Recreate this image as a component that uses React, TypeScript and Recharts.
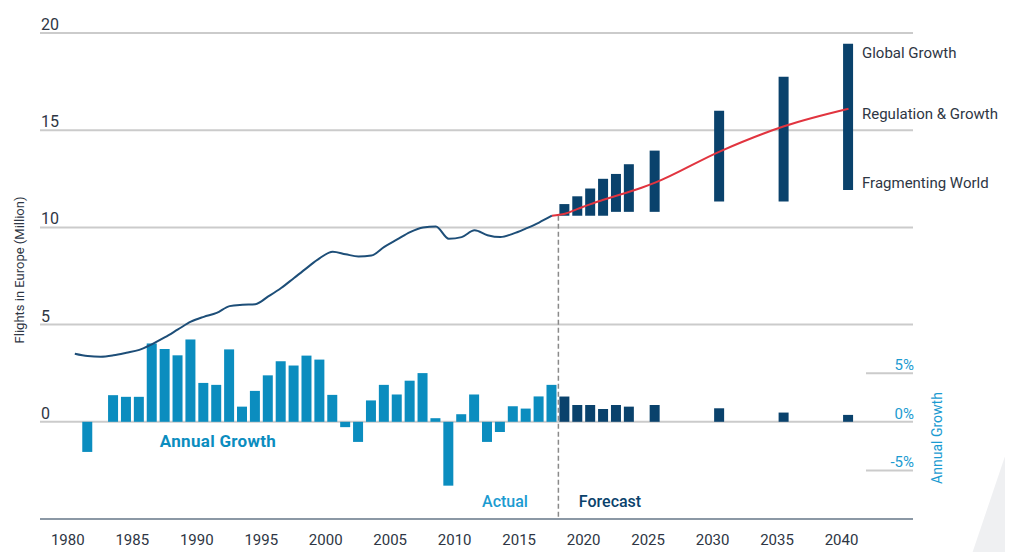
import { Bar, CartesianGrid, Cell, ComposedChart, Line, ReferenceLine, XAxis, YAxis } from "recharts";

// actual traffic, 1980-2017
const HIST_YEARS = [
  1980, 1981, 1982, 1983, 1984, 1985, 1986, 1987, 1988, 1989, 1990, 1991, 1992, 1993, 1994, 1995, 1996, 1997, 1998,
  1999, 2000, 2001, 2002, 2003, 2004, 2005, 2006, 2007, 2008, 2009, 2010, 2011, 2012, 2013, 2014, 2015, 2016, 2017,
];
const FLIGHTS = [
  3.5, 3.38, 3.35, 3.42, 3.55, 3.7, 4.0, 4.35, 4.75, 5.15, 5.4, 5.6, 5.95, 6.02, 6.05, 6.45, 6.88, 7.4, 7.92, 8.42,
  8.75, 8.62, 8.5, 8.55, 9.0, 9.38, 9.76, 10.0, 10.05, 9.42, 9.5, 9.85, 9.6, 9.5, 9.68, 9.95, 10.25, 10.6,
];
const GROWTH_HIST = [
  null, -3.1, 0, 2.74, 2.57, 2.57, 8.06, 7.49, 6.84, 8.47, 4.0, 3.8, 7.45, 1.56, 3.18, 4.78, 6.23, 5.79, 6.81, 6.4,
  2.77, -0.55, -2.07, 2.2, 3.8, 2.81, 4.23, 5.01, 0.37, -6.57, 0.78, 2.81, -2.07, -1.05, 1.59, 1.36, 2.61, 3.8,
];

// forecast scenarios
const FC_YEARS = [2018, 2019, 2020, 2021, 2022, 2023, 2024, 2025, 2030, 2035, 2040];
const GROWTH_FC = [2.6, 1.73, 1.73, 1.32, 1.73, 1.56, null, 1.73, 1.39, 0.95, 0.71];
const FRAGMENTING = [10.6, 10.6, 10.6, 10.6, 10.8, 10.8, null, 10.8, 11.33, 11.33, 11.93];
const GLOBAL_GROWTH = [11.2, 11.6, 12.0, 12.5, 12.75, 13.25, null, 13.95, 16.0, 17.75, 19.45];
const REGULATION = [10.7, 10.95, 11.2, 11.42, 11.63, 11.83, 12.05, 12.3, 13.9, 15.2, 16.1];

const X_TICKS = [1980, 1985, 1990, 1995, 2000, 2005, 2010, 2015, 2020, 2025, 2030, 2035, 2040];
const LEFT_TICKS = [0, 5, 10, 15, 20];
const RIGHT_TICKS = [-5, 0, 5];
const FORECAST_START = 2017.5;

const LIGHT = "#0b8dbf";
const DARK = "#0a426c";
const GRID = "#cbcbcb";
const TEXT = "#2e3644";
const FONT = "Roboto, 'DejaVu Sans', sans-serif";

const rows = [
  ...HIST_YEARS.map((year, i) => ({
    year,
    flights: FLIGHTS[i],
    growth: GROWTH_HIST[i],
    range: null as number[] | null,
    reg: i === HIST_YEARS.length - 1 ? FLIGHTS[i] : null,
  })),
  ...FC_YEARS.map((year, i) => ({
    year,
    flights: null,
    growth: GROWTH_FC[i],
    range: FRAGMENTING[i] != null ? [FRAGMENTING[i] as number, GLOBAL_GROWTH[i] as number] : null,
    reg: REGULATION[i],
  })),
];

const LeftTick = (props: any) => {
  const { x, y, payload } = props;
  return (
    <text x={x + 1} y={y - 3} fill={TEXT} fontSize={16} fontFamily={FONT}>
      {payload.value}
    </text>
  );
};

const RightTick = (props: any) => {
  const { x, y, payload } = props;
  return (
    <g>
      {payload.value !== 0 && <line x1={x - 47} x2={x} y1={y} y2={y} stroke={GRID} strokeWidth={2} />}
      <text x={x + 1} y={y - 3} textAnchor="end" fill="#1b9bd1" fontSize={15} fontFamily={FONT}>
        {payload.value}%
      </text>
    </g>
  );
};

const YearTick = (props: any) => {
  const { x, y, payload } = props;
  return (
    <text x={x - 7} y={y + 24} textAnchor="middle" fill={TEXT} fontSize={15} fontFamily={FONT}>
      {payload.value}
    </text>
  );
};

const abs = (left: number, top: number, extra: any = {}) => ({
  position: "absolute" as const,
  left,
  top,
  transform: "translate(-50%, -50%)",
  whiteSpace: "nowrap" as const,
  fontFamily: FONT,
  ...extra,
});

export default function App() {
  return (
    <div style={{ position: "relative", width: 1013, height: 560, margin: -8, background: "#fff", overflow: "hidden" }}>
      <div
        style={{
          position: "absolute",
          left: 940,
          top: 420,
          width: 73,
          height: 140,
          background: "#eff0f2",
          clipPath: "polygon(100% 9%, 41% 100%, 100% 100%)",
        }}
      />
      <ComposedChart
        width={1013}
        height={560}
        data={rows}
        margin={{ top: 33, right: 0, left: 0, bottom: 0 }}
        style={{ position: "absolute", left: 0, top: 0 }}
      >
        <CartesianGrid horizontal vertical={false} stroke={GRID} strokeWidth={2} yAxisId="left" xAxisId="x" />
        <XAxis
          xAxisId="x"
          dataKey="year"
          type="number"
          domain={[1977.3, 2045]}
          allowDataOverflow
          ticks={X_TICKS}
          interval={0}
          height={41}
          tickLine={false}
          tickSize={0}
          axisLine={{ stroke: "#8b98a5", strokeWidth: 2 }}
          tick={YearTick}
        />
        <XAxis xAxisId="x2" dataKey="year" type="number" domain={[1977.3, 2045]} allowDataOverflow hide />
        <YAxis
          yAxisId="left"
          domain={[-5, 20]}
          ticks={LEFT_TICKS}
          interval={0}
          width={40}
          tickSize={0}
          tickMargin={0}
          tickLine={false}
          axisLine={false}
          tick={LeftTick}
        />
        <YAxis
          yAxisId="right"
          orientation="right"
          domain={[-10, 40]}
          ticks={RIGHT_TICKS}
          interval={0}
          width={100}
          tickSize={0}
          tickMargin={0}
          tickLine={false}
          axisLine={false}
          tick={RightTick}
        />
        <Bar xAxisId="x" yAxisId="right" dataKey="growth" barSize={10} isAnimationActive={false}>
          {rows.map((r) => (
            <Cell key={r.year} fill={r.year > FORECAST_START ? DARK : LIGHT} />
          ))}
        </Bar>
        <Bar xAxisId="x2" yAxisId="left" dataKey="range" barSize={10} fill={DARK} isAnimationActive={false} />
        <ReferenceLine
          xAxisId="x"
          yAxisId="left"
          segment={[
            { x: FORECAST_START, y: FLIGHTS[FLIGHTS.length - 1] },
            { x: FORECAST_START, y: -5 },
          ]}
          stroke="#8a8a8a"
          strokeWidth={1.5}
          strokeDasharray="5 3"
        />
        <Line
          xAxisId="x"
          yAxisId="left"
          dataKey="flights"
          type="monotone"
          stroke="#1d4e78"
          strokeWidth={2}
          dot={false}
          isAnimationActive={false}
        />
        <Line
          xAxisId="x"
          yAxisId="left"
          dataKey="reg"
          type="monotone"
          stroke="#e1343f"
          strokeWidth={2}
          dot={false}
          connectNulls
          isAnimationActive={false}
        />
      </ComposedChart>

      <div style={abs(19, 270, { transform: "translate(-50%, -50%) rotate(-90deg)", fontSize: 13, color: TEXT })}>
        Flights in Europe (Million)
      </div>
      <div
        style={abs(937, 438, { transform: "translate(-50%, -50%) rotate(-90deg)", fontSize: 14, color: "#1b9bd1" })}
      >
        Annual Growth
      </div>
      <div style={abs(218, 441, { fontSize: 17, fontWeight: 700, color: LIGHT, letterSpacing: 0.3 })}>
        Annual Growth
      </div>
      <div style={abs(505, 501, { fontSize: 16, fontWeight: 500, color: "#1b9bd1" })}>Actual</div>
      <div style={abs(610, 501, { fontSize: 16, fontWeight: 500, color: DARK })}>Forecast</div>
      <div style={abs(862, 53, { transform: "translate(0, -50%)", fontSize: 15, color: TEXT })}>Global Growth</div>
      <div style={abs(862, 114, { transform: "translate(0, -50%)", fontSize: 15, color: TEXT })}>
        Regulation &amp; Growth
      </div>
      <div style={abs(862, 183, { transform: "translate(0, -50%)", fontSize: 15, color: TEXT })}>
        Fragmenting World
      </div>
    </div>
  );
}
